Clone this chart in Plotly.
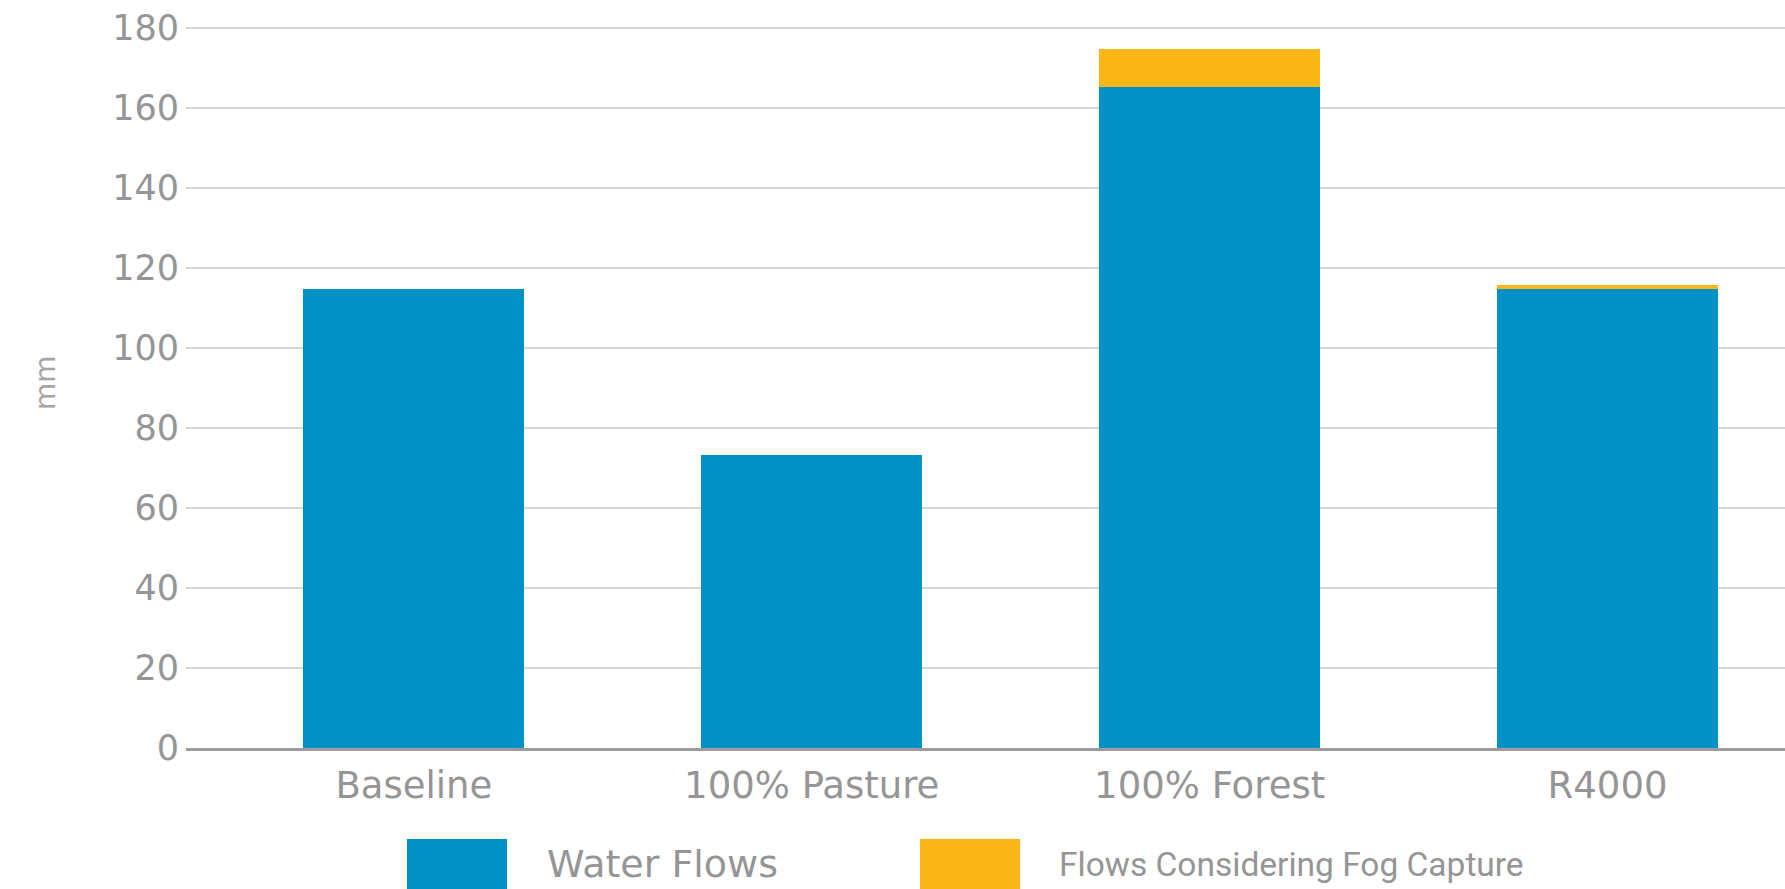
import plotly.graph_objects as go

# Scenario results (mm)
scenarios = ["Baseline", "100% Pasture", "100% Forest", "R4000"]
water_flows = [114.7, 73.2, 165.3, 114.7]
fog_capture = [0.0, 0.0, 9.4, 1.0]
y_ticks = [0, 20, 40, 60, 80, 100, 120, 140, 160, 180]

series_names = ["Water Flows", "Flows Considering Fog Capture"]
BLUE = "#0092C6"
ORANGE = "#FAB616"
TEXT = "#959595"
FONT = "DejaVu Sans"

W, H = 1785, 889
ML, MR, MT, MB = 186, 0, 24, 141
plot_w = W - ML - MR
plot_h = H - MT - MB


def px_x(px):
    return (px - ML) / plot_w


def px_y(py):
    return (H - MB - py) / plot_h


fig = go.Figure()
fig.add_trace(go.Bar(x=scenarios, y=water_flows, name=series_names[0],
                     marker=dict(color=BLUE, line=dict(width=0))))
fig.add_trace(go.Bar(x=scenarios, y=fog_capture, name=series_names[1],
                     marker=dict(color=ORANGE, line=dict(width=0))))

# Custom legend: large swatches with labels below the axis
legend_items = [
    (series_names[0], BLUE, 407, 545, dict(family=FONT, size=38, color=TEXT)),
    (series_names[1], ORANGE, 920, 1057, dict(family="Roboto", size=33.5, color=TEXT)),
]
shapes, annotations = [], []
for name, color, sx, tx, font in legend_items:
    shapes.append(dict(type="rect", xref="paper", yref="paper",
                       x0=px_x(sx), x1=px_x(sx + 100), y0=px_y(839), y1=px_y(905),
                       fillcolor=color, line=dict(width=0), layer="above"))
    annotations.append(dict(text=name, xref="paper", yref="paper",
                            x=px_x(tx), y=px_y(864), xanchor="left", yanchor="middle",
                            showarrow=False, font=font))

# Axis title
annotations.append(dict(text="mm", xref="paper", yref="paper", x=px_x(45), y=px_y(383),
                        xanchor="center", yanchor="middle", textangle=-90, showarrow=False,
                        font=dict(family=FONT, size=28, color="#a5a5a5")))

fig.update_layout(
    width=W, height=H, autosize=False,
    margin=dict(l=ML, r=MR, t=MT, b=MB, pad=0),
    barmode="stack", bargap=0.445,
    plot_bgcolor="white", paper_bgcolor="white",
    showlegend=False,
    shapes=shapes, annotations=annotations,
    xaxis=dict(type="category", range=[-0.5726, 3.446], showgrid=False, zeroline=False,
               showline=True, linecolor="#9c9c9c", linewidth=3,
               ticks="", ticklabelstandoff=3,
               tickfont=dict(family=FONT, size=37, color=TEXT)),
    yaxis=dict(range=[0, 181], tickvals=y_ticks, showgrid=True, gridcolor="#d6d6d6",
               gridwidth=2, zeroline=False, showline=False, ticks="",
               ticklabelstandoff=6,
               tickfont=dict(family=FONT, size=35, color=TEXT)),
)

fig.write_html("out.html")
